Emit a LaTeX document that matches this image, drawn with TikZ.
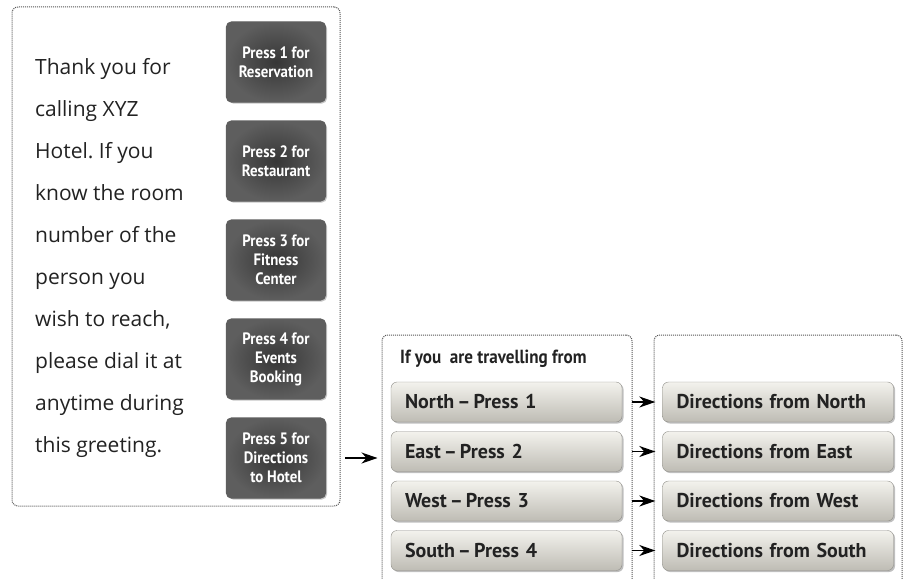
\documentclass[tikz,border=0pt]{standalone}
\usepackage{fontspec}
\setmainfont{PT Sans}
\newfontfamily\greetfont{Open Sans}
\newfontfamily\condfont[FakeStretch=0.9]{PT Sans}
\usetikzlibrary{arrows.meta,shadows}
\frenchspacing

\definecolor{keydark}{HTML}{363636}
\definecolor{keyedge}{HTML}{5E5E5E}
\definecolor{barlight}{HTML}{F3F2ED}
\definecolor{bardark}{HTML}{BEBCB4}
\definecolor{inkdark}{HTML}{222222}
\definecolor{framegray}{HTML}{555555}

\tikzset{
  frame/.style={draw=framegray, line width=1pt, dash pattern=on 1pt off 1pt,
    rounded corners=6pt, inner sep=0pt},
  greet/.style={text=inkdark, align=left, inner sep=0pt,
    font=\greetfont\fontsize{21}{42}\selectfont},
  menukey/.style={draw=keyedge, line width=1.2pt, rounded corners=5pt,
    shading=radial, inner color=keydark, outer color=keyedge,
    minimum width=99pt, minimum height=80pt, inner sep=0pt, align=center,
    text=white, font=\condfont\bfseries\fontsize{16.5}{19}\selectfont,
    drop shadow={shadow xshift=1.5pt, shadow yshift=-1.5pt, opacity=0.45}},
  bar/.style={draw=bardark!75!black, rounded corners=6pt,
    top color=barlight, bottom color=bardark,
    minimum width=231pt, minimum height=40pt, inner xsep=14pt,
    text width=203pt, align=left, text=inkdark,
    font=\bfseries\fontsize{20}{22}\selectfont,
    drop shadow={shadow xshift=1.5pt, shadow yshift=-1.5pt, opacity=0.5}},
  head/.style={text=inkdark, inner sep=0pt,
    font=\condfont\bfseries\fontsize{19}{22}\selectfont},
  arr/.style={-{Stealth[length=16pt, width=11pt, inset=5pt]}, line width=1.2pt, black}
}

\begin{document}
\begin{tikzpicture}[x=1pt,y=-1pt]
  \useasboundingbox (0,0) rectangle (907,578);
  \clip (0,0) rectangle (907,578);

  % dotted frames
  \node[frame, minimum width=328pt, minimum height=499pt] (greetBox) at (176,256.5) {};
  \node[frame, minimum width=250pt, minimum height=270pt] (fromBox) at (507,470) {};
  \node[frame, minimum width=248pt, minimum height=270pt] (dirBox) at (778,470) {};

  % greeting (base = last line)
  \node[greet, anchor=base west] (greeting) at (35,452)
    {Thank you for\\calling XYZ\\Hotel. If you\\know the room\\number of the\\
     person you\\wish to reach,\\please dial it at\\anytime during\\this greeting.};

  % menu keys
  \node[menukey] (key1) at (276,62) {Press 1 for\\Reservation};
  \node[menukey] (key2) at (276,161) {Press 2 for\\Restaurant};
  \node[menukey] (key3) at (276,260) {Press 3 for\\Fitness\\Center};
  \node[menukey] (key4) at (276,359) {Press 4 for\\Events\\Booking};
  \node[menukey] (key5) at (276,458) {Press 5 for\\Directions\\to Hotel};

  \draw[arr, shorten <=19pt, shorten >=4pt] (key5.east) -- (key5.east -| fromBox.west);

  % directions
  \node[head, anchor=base west] (fromHead) at (400,363) {If you\ \ are travelling from};

  \foreach \side/\txt [count=\i] in {north/North,east/East,west/West,south/South} {
    \node[bar] (\side) at (506.5,352.5+49.5*\i) {\txt\hspace{3pt}--\hspace{3pt}Press \i};
    \node[bar] (dir\side) at (778,352.5+49.5*\i) {Directions from \txt};
    \draw[arr, shorten <=10pt, shorten >=7pt] (\side) -- (dir\side);
  }
\end{tikzpicture}
\end{document}
